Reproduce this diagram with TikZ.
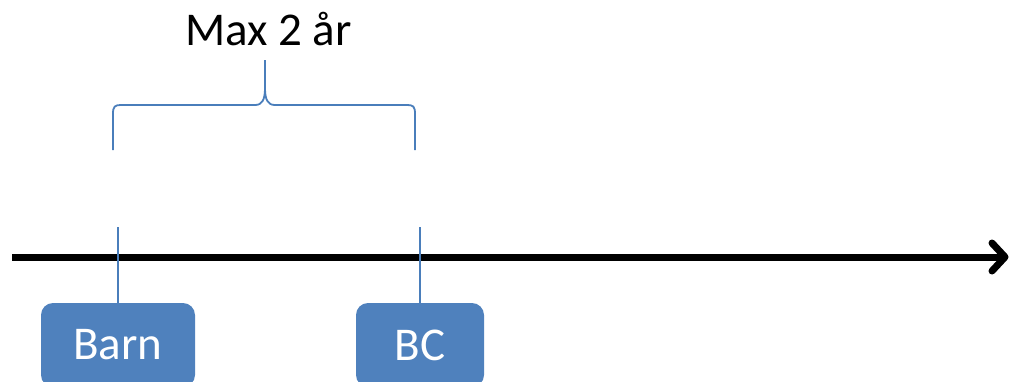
\documentclass[tikz,border=0pt]{standalone}
\usepackage{fontspec}
\setmainfont{Carlito}
\definecolor{boxblue}{HTML}{4F81BD}
\definecolor{lineblue}{HTML}{4A7EBB}
\tikzset{
  event/.style={fill=boxblue, draw=none, rounded corners=12pt, text=white,
    font=\fontsize{47}{56}\selectfont, inner sep=0pt},
  tick/.style={draw=lineblue, line width=1.8pt},
  brace/.style={draw=lineblue, line width=1.8pt, line join=round},
  axis/.style={draw=black, line width=7pt},
  label/.style={font=\fontsize{47}{56}\selectfont, inner sep=0pt}
}
\begin{document}
\begin{tikzpicture}[x=1pt,y=-1pt]
  \useasboundingbox (0,0) rectangle (1010,381);
  \clip (0,0) rectangle (1010,381);

  % time axis with open arrowhead
  \coordinate (a0) at (12,257);
  \coordinate (a1) at (1005,257);
  \draw[axis] (a0) -- (a1);
  \draw[axis, line cap=round, line join=round] (992,243) -- (a1) -- (992,271);

  % events below the axis
  \node[event, minimum width=154pt, minimum height=84pt] (barn) at (118,345) {Barn};
  \node[event, minimum width=128pt, minimum height=84pt] (bc) at (420,345) {BC};

  % ticks from the axis down to the events
  \coordinate (tb) at (118,227);
  \coordinate (tc) at (420,227);
  \draw[tick] (tb) -- (barn.north);
  \draw[tick] (tc) -- (bc.north);

  % curly brace spanning the interval
  \coordinate (bl) at (113,150);
  \coordinate (br) at (415,150);
  \coordinate (bt) at (265,60);
  \draw[brace] (bl) -- (113,114) .. controls (113,106) and (115,105) .. (121,105)
    -- (255,105) .. controls (262,105) and (265,100) .. (265,88) -- (bt);
  \draw[brace] (265,88) .. controls (265,100) and (268,105) .. (275,105)
    -- (407,105) .. controls (413,105) and (415,106) .. (415,114) -- (br);

  \node[label, anchor=base] (max) at (268.5,45) {Max 2 år};
\end{tikzpicture}
\end{document}
